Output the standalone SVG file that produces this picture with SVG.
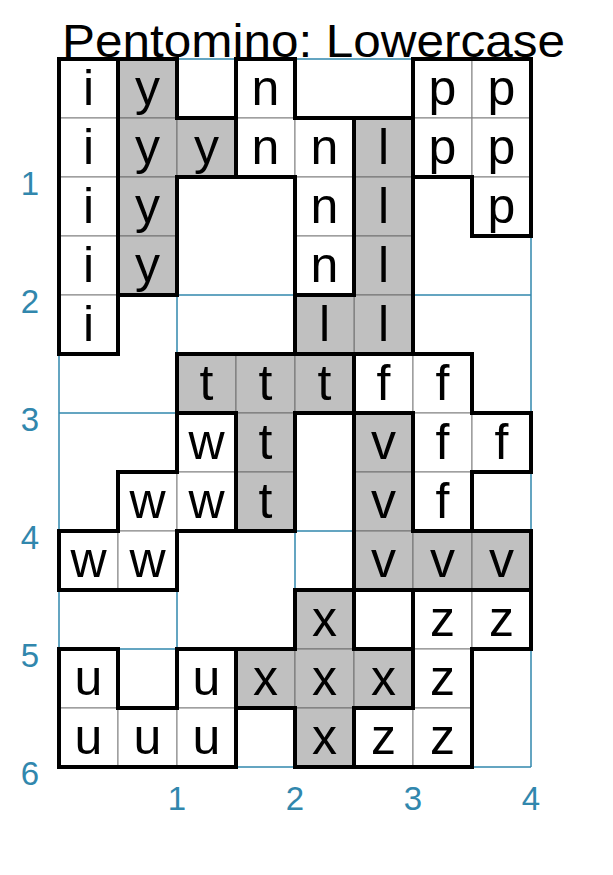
<svg xmlns="http://www.w3.org/2000/svg" width="613" height="875" viewBox="0 0 613 875">
<style>
.bg{fill:#ffffff}
.grid line{stroke:#3187ad;stroke-width:1.5}
.ax{font-family:"Liberation Sans",Arial,sans-serif;font-size:33px;fill:#3187ad;text-anchor:middle}
.title{font-family:"Liberation Sans",Arial,sans-serif;font-size:46px;fill:#000;text-anchor:middle}
.cw{fill:#ffffff;stroke:#808080;stroke-width:1}
.cg{fill:#c0c0c0;stroke:#707070;stroke-width:1}
.lt{font-family:"Liberation Sans",Arial,sans-serif;font-size:50px;fill:#000;text-anchor:middle}
.ol{fill:none;stroke:#000;stroke-width:4;stroke-linejoin:miter;stroke-linecap:square}
</style>
<rect class="bg" x="0" y="0" width="613" height="875"/>
<g id="grid" class="grid">
<line x1="59" y1="59" x2="59" y2="767"/>
<line x1="177" y1="59" x2="177" y2="767"/>
<line x1="295" y1="59" x2="295" y2="767"/>
<line x1="413" y1="59" x2="413" y2="767"/>
<line x1="531" y1="59" x2="531" y2="767"/>
<line x1="59" y1="59" x2="531" y2="59"/>
<line x1="59" y1="177" x2="531" y2="177"/>
<line x1="59" y1="295" x2="531" y2="295"/>
<line x1="59" y1="413" x2="531" y2="413"/>
<line x1="59" y1="531" x2="531" y2="531"/>
<line x1="59" y1="649" x2="531" y2="649"/>
<line x1="59" y1="767" x2="531" y2="767"/>
</g>
<g id="axes">
<text class="ax" x="30" y="195">1</text>
<text class="ax" x="30" y="313">2</text>
<text class="ax" x="30" y="431">3</text>
<text class="ax" x="30" y="549">4</text>
<text class="ax" x="30" y="667">5</text>
<text class="ax" x="30" y="785">6</text>
<text class="ax" x="177" y="810">1</text>
<text class="ax" x="295" y="810">2</text>
<text class="ax" x="413" y="810">3</text>
<text class="ax" x="531" y="810">4</text>
</g>
<text id="title" class="title" x="313.5" y="57" textLength="503" lengthAdjust="spacingAndGlyphs">Pentomino: Lowercase</text>
<g id="pieces">
<g id="piece-i">
<rect class="cw" x="59" y="59" width="59" height="59"/>
<rect class="cw" x="59" y="118" width="59" height="59"/>
<rect class="cw" x="59" y="177" width="59" height="59"/>
<rect class="cw" x="59" y="236" width="59" height="59"/>
<rect class="cw" x="59" y="295" width="59" height="59"/>
<text class="lt" x="88.5" y="105">i</text>
<text class="lt" x="88.5" y="164">i</text>
<text class="lt" x="88.5" y="223">i</text>
<text class="lt" x="88.5" y="282">i</text>
<text class="lt" x="88.5" y="341">i</text>
<path class="ol" d="M59 59H118V354H59Z"/>
</g>
<g id="piece-y">
<rect class="cg" x="118" y="59" width="59" height="59"/>
<rect class="cg" x="118" y="118" width="59" height="59"/>
<rect class="cg" x="177" y="118" width="59" height="59"/>
<rect class="cg" x="118" y="177" width="59" height="59"/>
<rect class="cg" x="118" y="236" width="59" height="59"/>
<text class="lt" x="147.5" y="105">y</text>
<text class="lt" x="147.5" y="164">y</text>
<text class="lt" x="206.5" y="164">y</text>
<text class="lt" x="147.5" y="223">y</text>
<text class="lt" x="147.5" y="282">y</text>
<path class="ol" d="M118 59H177V118H236V177H177V295H118Z"/>
</g>
<g id="piece-n">
<rect class="cw" x="236" y="59" width="59" height="59"/>
<rect class="cw" x="236" y="118" width="59" height="59"/>
<rect class="cw" x="295" y="118" width="59" height="59"/>
<rect class="cw" x="295" y="177" width="59" height="59"/>
<rect class="cw" x="295" y="236" width="59" height="59"/>
<text class="lt" x="265.5" y="105">n</text>
<text class="lt" x="265.5" y="164">n</text>
<text class="lt" x="324.5" y="164">n</text>
<text class="lt" x="324.5" y="223">n</text>
<text class="lt" x="324.5" y="282">n</text>
<path class="ol" d="M236 59H295V118H354V295H295V177H236Z"/>
</g>
<g id="piece-l">
<rect class="cg" x="354" y="118" width="59" height="59"/>
<rect class="cg" x="354" y="177" width="59" height="59"/>
<rect class="cg" x="354" y="236" width="59" height="59"/>
<rect class="cg" x="354" y="295" width="59" height="59"/>
<rect class="cg" x="295" y="295" width="59" height="59"/>
<text class="lt" x="383.5" y="164">l</text>
<text class="lt" x="383.5" y="223">l</text>
<text class="lt" x="383.5" y="282">l</text>
<text class="lt" x="383.5" y="341">l</text>
<text class="lt" x="324.5" y="341">l</text>
<path class="ol" d="M354 118H413V354H295V295H354Z"/>
</g>
<g id="piece-p">
<rect class="cw" x="413" y="59" width="59" height="59"/>
<rect class="cw" x="472" y="59" width="59" height="59"/>
<rect class="cw" x="413" y="118" width="59" height="59"/>
<rect class="cw" x="472" y="118" width="59" height="59"/>
<rect class="cw" x="472" y="177" width="59" height="59"/>
<text class="lt" x="442.5" y="105">p</text>
<text class="lt" x="501.5" y="105">p</text>
<text class="lt" x="442.5" y="164">p</text>
<text class="lt" x="501.5" y="164">p</text>
<text class="lt" x="501.5" y="223">p</text>
<path class="ol" d="M413 59H531V236H472V177H413Z"/>
</g>
<g id="piece-t">
<rect class="cg" x="177" y="354" width="59" height="59"/>
<rect class="cg" x="236" y="354" width="59" height="59"/>
<rect class="cg" x="295" y="354" width="59" height="59"/>
<rect class="cg" x="236" y="413" width="59" height="59"/>
<rect class="cg" x="236" y="472" width="59" height="59"/>
<text class="lt" x="206.5" y="400">t</text>
<text class="lt" x="265.5" y="400">t</text>
<text class="lt" x="324.5" y="400">t</text>
<text class="lt" x="265.5" y="459">t</text>
<text class="lt" x="265.5" y="518">t</text>
<path class="ol" d="M177 354H354V413H295V531H236V413H177Z"/>
</g>
<g id="piece-f">
<rect class="cw" x="354" y="354" width="59" height="59"/>
<rect class="cw" x="413" y="354" width="59" height="59"/>
<rect class="cw" x="413" y="413" width="59" height="59"/>
<rect class="cw" x="472" y="413" width="59" height="59"/>
<rect class="cw" x="413" y="472" width="59" height="59"/>
<text class="lt" x="383.5" y="400">f</text>
<text class="lt" x="442.5" y="400">f</text>
<text class="lt" x="442.5" y="459">f</text>
<text class="lt" x="501.5" y="459">f</text>
<text class="lt" x="442.5" y="518">f</text>
<path class="ol" d="M354 354H472V413H531V472H472V531H413V413H354Z"/>
</g>
<g id="piece-w">
<rect class="cw" x="177" y="413" width="59" height="59"/>
<rect class="cw" x="118" y="472" width="59" height="59"/>
<rect class="cw" x="177" y="472" width="59" height="59"/>
<rect class="cw" x="59" y="531" width="59" height="59"/>
<rect class="cw" x="118" y="531" width="59" height="59"/>
<text class="lt" x="206.5" y="459">w</text>
<text class="lt" x="147.5" y="518">w</text>
<text class="lt" x="206.5" y="518">w</text>
<text class="lt" x="88.5" y="577">w</text>
<text class="lt" x="147.5" y="577">w</text>
<path class="ol" d="M177 413H236V531H177V590H59V531H118V472H177Z"/>
</g>
<g id="piece-v">
<rect class="cg" x="354" y="413" width="59" height="59"/>
<rect class="cg" x="354" y="472" width="59" height="59"/>
<rect class="cg" x="354" y="531" width="59" height="59"/>
<rect class="cg" x="413" y="531" width="59" height="59"/>
<rect class="cg" x="472" y="531" width="59" height="59"/>
<text class="lt" x="383.5" y="459">v</text>
<text class="lt" x="383.5" y="518">v</text>
<text class="lt" x="383.5" y="577">v</text>
<text class="lt" x="442.5" y="577">v</text>
<text class="lt" x="501.5" y="577">v</text>
<path class="ol" d="M354 413H413V531H531V590H354Z"/>
</g>
<g id="piece-x">
<rect class="cg" x="295" y="590" width="59" height="59"/>
<rect class="cg" x="236" y="649" width="59" height="59"/>
<rect class="cg" x="295" y="649" width="59" height="59"/>
<rect class="cg" x="354" y="649" width="59" height="59"/>
<rect class="cg" x="295" y="708" width="59" height="59"/>
<text class="lt" x="324.5" y="636">x</text>
<text class="lt" x="265.5" y="695">x</text>
<text class="lt" x="324.5" y="695">x</text>
<text class="lt" x="383.5" y="695">x</text>
<text class="lt" x="324.5" y="754">x</text>
<path class="ol" d="M295 590H354V649H413V708H354V767H295V708H236V649H295Z"/>
</g>
<g id="piece-z">
<rect class="cw" x="413" y="590" width="59" height="59"/>
<rect class="cw" x="472" y="590" width="59" height="59"/>
<rect class="cw" x="413" y="649" width="59" height="59"/>
<rect class="cw" x="354" y="708" width="59" height="59"/>
<rect class="cw" x="413" y="708" width="59" height="59"/>
<text class="lt" x="442.5" y="636">z</text>
<text class="lt" x="501.5" y="636">z</text>
<text class="lt" x="442.5" y="695">z</text>
<text class="lt" x="383.5" y="754">z</text>
<text class="lt" x="442.5" y="754">z</text>
<path class="ol" d="M413 590H531V649H472V767H354V708H413Z"/>
</g>
<g id="piece-u">
<rect class="cw" x="59" y="649" width="59" height="59"/>
<rect class="cw" x="177" y="649" width="59" height="59"/>
<rect class="cw" x="59" y="708" width="59" height="59"/>
<rect class="cw" x="118" y="708" width="59" height="59"/>
<rect class="cw" x="177" y="708" width="59" height="59"/>
<text class="lt" x="88.5" y="695">u</text>
<text class="lt" x="206.5" y="695">u</text>
<text class="lt" x="88.5" y="754">u</text>
<text class="lt" x="147.5" y="754">u</text>
<text class="lt" x="206.5" y="754">u</text>
<path class="ol" d="M59 649H118V708H177V649H236V767H59Z"/>
</g>
</g>
</svg>
